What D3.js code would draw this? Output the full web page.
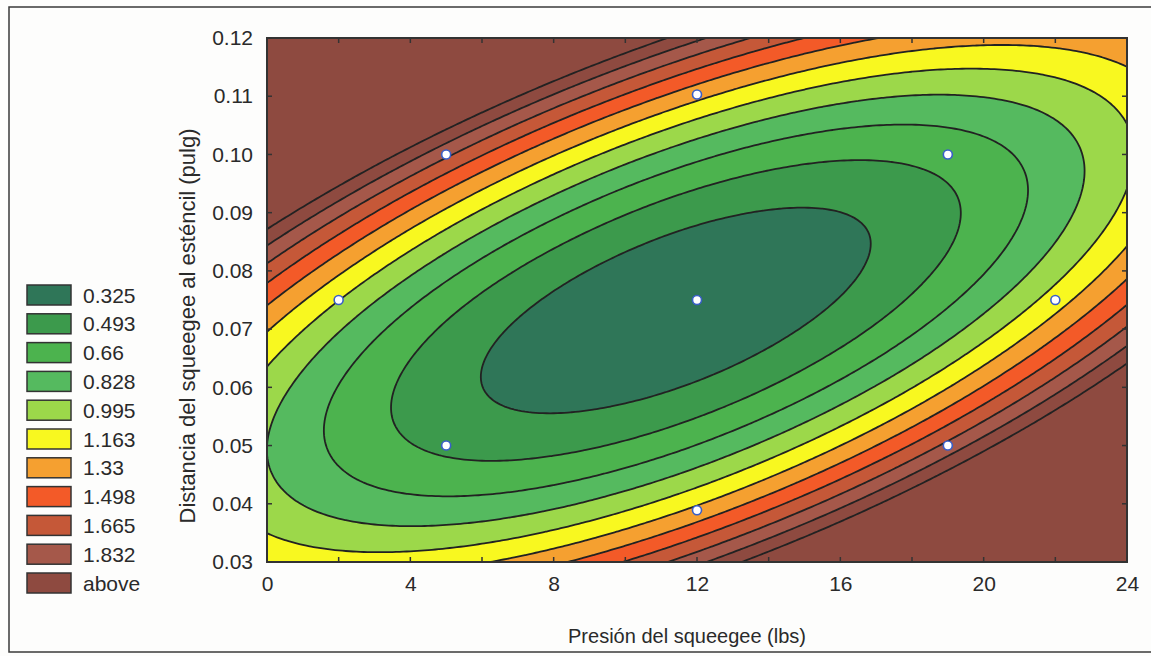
<!DOCTYPE html>
<html><head><meta charset="utf-8">
<script src="https://cdn.jsdelivr.net/npm/d3@7"></script>
<style>
body{margin:0;background:#fff;}
svg{display:block;}
text{font-family:"Liberation Sans",Arial,sans-serif;fill:#2a2a2a;}
</style>
</head><body>
<svg id="chart" width="1151" height="656"></svg>
<script>
// ---------- data ----------
const levels = [0.325, 0.493, 0.66, 0.828, 0.995, 1.163, 1.33, 1.498, 1.665, 1.832];
const legendLabels = ["0.325","0.493","0.66","0.828","0.995","1.163","1.33","1.498","1.665","1.832","above"];
const bandColors = ["#2f7658","#3c9a4c","#4cb34e","#55ba5f","#9cd84a","#f8f820","#f5a030","#f35a28","#c55838","#a5584a","#8e4a40"];
const extraLevels = [1.9995];
const xTicks = [0, 4, 8, 12, 16, 20, 24];
const yTicks = [0.03, 0.04, 0.05, 0.06, 0.07, 0.08, 0.09, 0.10, 0.11, 0.12];
// surface estimate at grid nodes (rows: distance, columns: pressure)
const gridX = [0, 2, 4, 6, 8, 10, 12, 14, 16, 18, 20, 22, 24];
const gridY = [0.03, 0.04, 0.05, 0.06, 0.07, 0.08, 0.09, 0.10, 0.11, 0.12];
const zGrid = [
  [1.130, 1.068, 1.075, 1.150, 1.294, 1.507, 1.789, 2.140, 2.558, 3.047, 3.604, 4.229, 4.923],
  [0.898, 0.767, 0.705, 0.712, 0.788, 0.933, 1.146, 1.428, 1.778, 2.198, 2.687, 3.244, 3.870],
  [0.828, 0.630, 0.499, 0.437, 0.445, 0.521, 0.666, 0.880, 1.162, 1.513, 1.933, 2.421, 2.979],
  [0.922, 0.655, 0.456, 0.326, 0.265, 0.273, 0.349, 0.494, 0.708, 0.990, 1.342, 1.762, 2.251],
  [1.179, 0.843, 0.576, 0.377, 0.248, 0.187, 0.195, 0.272, 0.417, 0.631, 0.914, 1.266, 1.686],
  [1.599, 1.195, 0.859, 0.592, 0.394, 0.265, 0.204, 0.212, 0.289, 0.435, 0.649, 0.932, 1.284],
  [2.181, 1.709, 1.304, 0.969, 0.703, 0.505, 0.376, 0.316, 0.324, 0.401, 0.547, 0.762, 1.046],
  [2.927, 2.386, 1.913, 1.509, 1.174, 0.908, 0.711, 0.582, 0.522, 0.531, 0.608, 0.755, 0.970],
  [3.836, 3.226, 2.685, 2.213, 1.809, 1.475, 1.209, 1.012, 0.883, 0.823, 0.833, 0.910, 1.057],
  [4.908, 4.230, 3.620, 3.079, 2.607, 2.204, 1.870, 1.604, 1.407, 1.279, 1.220, 1.229, 1.307]
];
const pointsX = [2, 5, 5, 12, 12, 12, 19, 19, 22];
const pointsY = [0.075, 0.100, 0.050, 0.1103, 0.075, 0.0389, 0.100, 0.050, 0.075];

// ---------- layout ----------
const svg = d3.select("#chart");
const plot = {left: 267, right: 1127, top: 38, bottom: 562};
const x = d3.scaleLinear().domain([0, 24]).range([plot.left, plot.right]);
const y = d3.scaleLinear().domain([0.03, 0.12]).range([plot.bottom, plot.top]);

svg.append("rect").attr("x", 0).attr("y", 0).attr("width", 1151).attr("height", 656).attr("fill", "#fdfdfc");
svg.append("rect").attr("x", 9).attr("y", 7).attr("width", 1150).attr("height", 645)
  .attr("fill", "none").attr("stroke", "#3a3a3a").attr("stroke-width", 1.5);

svg.append("clipPath").attr("id", "clip").append("rect")
  .attr("x", plot.left).attr("y", plot.top)
  .attr("width", plot.right - plot.left).attr("height", plot.bottom - plot.top);

// ---------- smooth evaluation of the grid (Catmull-Rom) ----------
const nxG = gridX.length, nyG = gridY.length;
function node(i, j) {
  if (i < 0) return 3 * node(0, j) - 3 * node(1, j) + node(2, j);
  if (i > nxG - 1) return 3 * node(nxG - 1, j) - 3 * node(nxG - 2, j) + node(nxG - 3, j);
  if (j < 0) return 3 * node(i, 0) - 3 * node(i, 1) + node(i, 2);
  if (j > nyG - 1) return 3 * node(i, nyG - 1) - 3 * node(i, nyG - 2) + node(i, nyG - 3);
  return zGrid[j][i];
}
function cr(p0, p1, p2, p3, t) {
  return 0.5 * (2 * p1 + (-p0 + p2) * t + (2 * p0 - 5 * p1 + 4 * p2 - p3) * t * t + (-p0 + 3 * p1 - 3 * p2 + p3) * t * t * t);
}
const gx0 = gridX[0], gdx = gridX[1] - gridX[0];
const gy0 = gridY[0], gdy = gridY[1] - gridY[0];
function surface(px, py) {
  const u = (px - gx0) / gdx, w = (py - gy0) / gdy;
  const i = Math.max(0, Math.min(nxG - 2, Math.floor(u)));
  const j = Math.max(0, Math.min(nyG - 2, Math.floor(w)));
  const t = u - i, s = w - j;
  const col = [];
  for (let jj = j - 1; jj <= j + 2; jj++) {
    col.push(cr(node(i - 1, jj), node(i, jj), node(i + 1, jj), node(i + 2, jj), t));
  }
  return cr(col[0], col[1], col[2], col[3], s);
}

const fx0 = -0.6, fdx = 0.1, fnx = 253;
const fy0 = 0.0272, fdy = 0.0005, fny = 193;
const fine = new Float64Array(fnx * fny);
for (let j = 0; j < fny; j++) {
  for (let i = 0; i < fnx; i++) {
    fine[j * fnx + i] = surface(fx0 + i * fdx, fy0 + j * fdy);
  }
}
const contourGen = d3.contours().size([fnx, fny]);
const proj = d3.geoTransform({
  point: function(gx, gy) {
    this.stream.point(x(fx0 + (gx - 0.5) * fdx), y(fy0 + (gy - 0.5) * fdy));
  }
});
const path = d3.geoPath(proj);

const g = svg.append("g").attr("clip-path", "url(#clip)");
g.append("rect").attr("x", plot.left).attr("y", plot.top)
  .attr("width", plot.right - plot.left).attr("height", plot.bottom - plot.top)
  .attr("fill", bandColors[0]);

const fills = contourGen.thresholds(levels)(fine);
g.selectAll("path.band").data(fills).join("path")
  .attr("class", "band")
  .attr("d", path)
  .attr("fill", (d, k) => bandColors[k + 1])
  .attr("stroke", "none");

const lineLevels = levels.concat(extraLevels);
const lines = contourGen.thresholds(lineLevels)(fine);
g.selectAll("path.iso").data(lines).join("path")
  .attr("class", "iso")
  .attr("d", path)
  .attr("fill", "none")
  .attr("stroke", "#222")
  .attr("stroke-width", 1.8);

g.selectAll("circle.pt").data(pointsX.map((v, k) => [v, pointsY[k]])).join("circle")
  .attr("class", "pt")
  .attr("cx", d => x(d[0])).attr("cy", d => y(d[1])).attr("r", 4.5)
  .attr("fill", "#ffffff").attr("stroke", "#3a5fc8").attr("stroke-width", 1.6);

svg.append("rect").attr("x", plot.left).attr("y", plot.top)
  .attr("width", plot.right - plot.left).attr("height", plot.bottom - plot.top)
  .attr("fill", "none").attr("stroke", "#333").attr("stroke-width", 2);

const minorX = d3.range(0, 24.001, 2);
const minorY = yTicks;
const tk = svg.append("g").attr("stroke", "#333").attr("stroke-width", 1.5);
minorX.forEach(v => {
  tk.append("line").attr("x1", x(v)).attr("x2", x(v)).attr("y1", plot.bottom).attr("y2", plot.bottom - 5);
  tk.append("line").attr("x1", x(v)).attr("x2", x(v)).attr("y1", plot.top).attr("y2", plot.top + 5);
});
minorY.forEach(v => {
  tk.append("line").attr("y1", y(v)).attr("y2", y(v)).attr("x1", plot.left).attr("x2", plot.left + 5);
  tk.append("line").attr("y1", y(v)).attr("y2", y(v)).attr("x1", plot.right).attr("x2", plot.right - 5);
});

const xAxis = svg.append("g").attr("transform", `translate(0,${plot.bottom})`)
  .call(d3.axisBottom(x).tickValues(xTicks).tickSize(0).tickPadding(14).tickFormat(d3.format("d")));
const yAxis = svg.append("g").attr("transform", `translate(${plot.left},0)`)
  .call(d3.axisLeft(y).tickValues(yTicks).tickSize(0).tickPadding(14).tickFormat(d3.format(".2f")));
[xAxis, yAxis].forEach(a => {
  a.select(".domain").remove();
  a.selectAll("text").style("font-family", '"Liberation Sans",Arial,sans-serif').style("font-size", "21px").attr("fill", "#2a2a2a");
});

svg.append("text").attr("x", 687).attr("y", 643).attr("text-anchor", "middle")
  .style("font-size", "20px").text("Presión del squeegee (lbs)");
svg.append("text").attr("transform", "translate(195,326) rotate(-90)").attr("text-anchor", "middle")
  .style("font-size", "22px").text("Distancia del squeegee al esténcil (pulg)");

const leg = svg.append("g");
legendLabels.forEach((lab, k) => {
  const top = 285 + k * 28.8;
  leg.append("rect").attr("x", 27).attr("y", top).attr("width", 44).attr("height", 20)
    .attr("fill", bandColors[k]).attr("stroke", "#333").attr("stroke-width", 1.5);
  leg.append("text").attr("x", 83).attr("y", top + 10).attr("dy", "0.36em")
    .style("font-size", "21px").text(lab);
});
</script>
</body></html>
